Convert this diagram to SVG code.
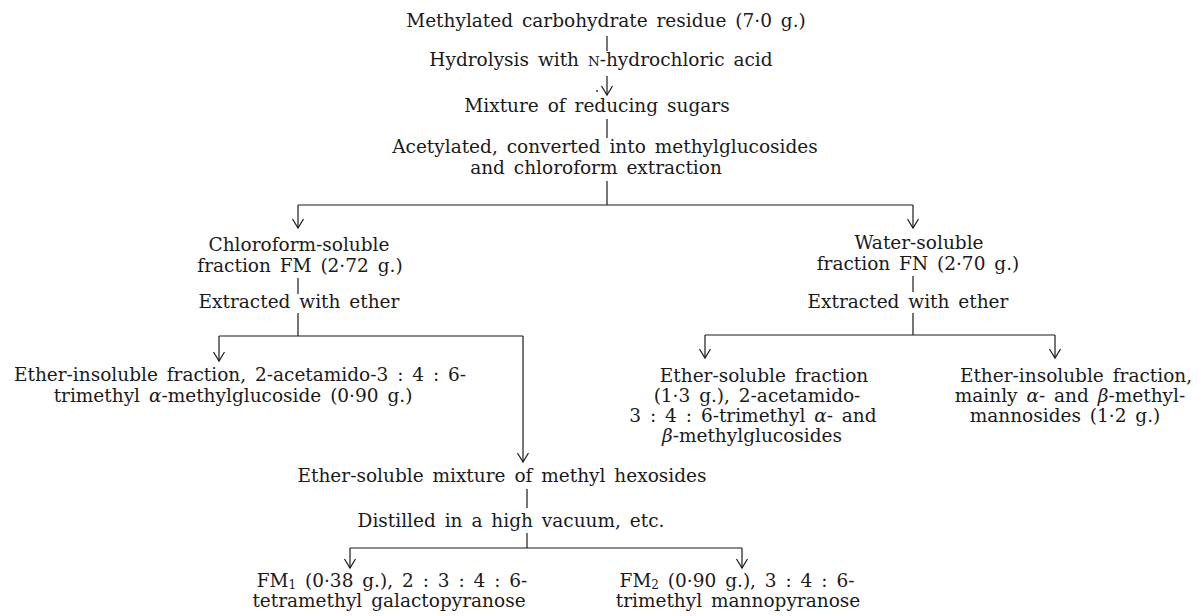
<svg xmlns="http://www.w3.org/2000/svg" width="1202" height="616" viewBox="0 0 1202 616">
<style>
text{font-family:"DejaVu Serif","Liberation Serif",serif;font-size:18.5px;word-spacing:3px;fill:#1a1a1a;text-anchor:middle}
.c{stroke:#1a1a1a;stroke-width:1.2;fill:none}
.g{font-style:italic}
.sc{font-size:13.5px}
.sub{font-size:12px}
</style>
<defs>
<marker id="ah" markerUnits="userSpaceOnUse" markerWidth="16" markerHeight="16" refX="8" refY="14" orient="0" viewBox="0 0 16 16">
<path d="M2.5,5 L8,14 L13.5,5" fill="none" stroke="#1a1a1a" stroke-width="1.2"/>
</marker>
</defs>
<rect width="1202" height="616" fill="#fff"/>
<g id="connectors" class="c">
<line x1="607" y1="36" x2="607" y2="51"/>
<line x1="607" y1="76" x2="607" y2="95" marker-end="url(#ah)"/>
<line x1="607" y1="119" x2="607" y2="138"/>
<line x1="607" y1="181" x2="607" y2="205"/>
<line x1="298" y1="205" x2="913" y2="205"/>
<line x1="298" y1="205" x2="298" y2="228" marker-end="url(#ah)"/>
<line x1="913" y1="205" x2="913" y2="228" marker-end="url(#ah)"/>
<line x1="298" y1="278" x2="298" y2="294"/>
<line x1="913" y1="276" x2="913" y2="292"/>
<line x1="298" y1="313" x2="298" y2="336"/>
<line x1="219" y1="336" x2="523" y2="336"/>
<line x1="219" y1="336" x2="219" y2="361" marker-end="url(#ah)"/>
<line x1="523" y1="336" x2="523" y2="462" marker-end="url(#ah)"/>
<line x1="913" y1="313" x2="913" y2="335"/>
<line x1="705" y1="335" x2="1055" y2="335"/>
<line x1="705" y1="335" x2="705" y2="358" marker-end="url(#ah)"/>
<line x1="1055" y1="335" x2="1055" y2="358" marker-end="url(#ah)"/>
<line x1="527" y1="489" x2="527" y2="508"/>
<line x1="527" y1="533" x2="527" y2="548"/>
<line x1="350" y1="548" x2="742" y2="548"/>
<line x1="350" y1="548" x2="350" y2="568" marker-end="url(#ah)"/>
<line x1="742" y1="548" x2="742" y2="568" marker-end="url(#ah)"/>
</g>
<circle cx="597" cy="91" r="0.9" fill="#1a1a1a"/>
<g id="n-start"><text x="606" y="27">Methylated carbohydrate residue (7·0 g.)</text></g>
<g id="n-hydrolysis"><text x="601" y="66">Hydrolysis with <tspan class="sc">N</tspan>-hydrochloric acid</text></g>
<g id="n-mixture"><text x="597" y="112">Mixture of reducing sugars</text></g>
<g id="n-acetylated"><text x="605" y="153">Acetylated, converted into methylglucosides</text><text x="596" y="174">and chloroform extraction</text></g>
<g id="n-fm"><text x="299" y="251">Chloroform-soluble</text><text x="300" y="272">fraction FM (2·72 g.)</text></g>
<g id="n-fm-extract"><text x="299" y="308">Extracted with ether</text></g>
<g id="n-fn"><text x="919" y="249">Water-soluble</text><text x="918" y="270">fraction FN (2·70 g.)</text></g>
<g id="n-fn-extract"><text x="908" y="308">Extracted with ether</text></g>
<g id="n-fm-insol"><text x="240" y="381">Ether-insoluble fraction, 2-acetamido-3 : 4 : 6-</text><text x="233" y="402">trimethyl <tspan class="g">α</tspan>-methylglucoside (0·90 g.)</text></g>
<g id="n-fn-sol"><text x="764" y="382">Ether-soluble fraction</text><text x="757" y="402">(1·3 g.), 2-acetamido-</text><text x="753" y="422">3 : 4 : 6-trimethyl <tspan class="g">α</tspan>- and</text><text x="752" y="442"><tspan class="g">β</tspan>-methylglucosides</text></g>
<g id="n-fn-insol"><text x="1076" y="382">Ether-insoluble fraction,</text><text x="1070" y="402">mainly <tspan class="g">α</tspan>- and <tspan class="g">β</tspan>-methyl-</text><text x="1065" y="422">mannosides (1·2 g.)</text></g>
<g id="n-hexosides"><text x="502" y="482">Ether-soluble mixture of methyl hexosides</text></g>
<g id="n-distilled"><text x="511" y="527">Distilled in a high vacuum, etc.</text></g>
<g id="n-fm1"><text x="392" y="587">FM<tspan class="sub" dy="2">1</tspan><tspan dy="-2"> (0·38 g.), 2 : 3 : 4 : 6-</tspan></text><text x="389" y="607">tetramethyl galactopyranose</text></g>
<g id="n-fm2"><text x="737" y="587">FM<tspan class="sub" dy="2">2</tspan><tspan dy="-2"> (0·90 g.), 3 : 4 : 6-</tspan></text><text x="738" y="607">trimethyl mannopyranose</text></g>
</svg>
